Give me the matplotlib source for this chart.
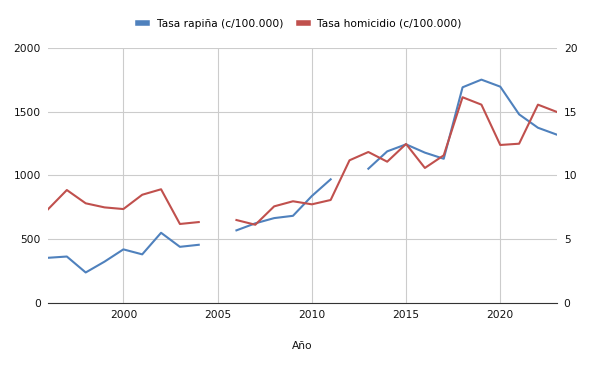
import numpy as np
import matplotlib
matplotlib.use("Agg")
import matplotlib.pyplot as plt

years = np.arange(1996, 2024)

# tasa de rapiña (c/100.000), NaN = sin dato
rapina = [355, 365, 240, 325, 421, 382, 551, 441, 457, np.nan,
          570, 625, 666, 684, 839, 970, np.nan, 1053, 1189, 1244,
          1179, 1131, 1691, 1751, 1696, 1479, 1374, 1320]

# tasa de homicidio (c/100.000)
homicidio = [7.35, 8.86, 7.82, 7.5, 7.37, 8.49, 8.92, 6.2, 6.35, np.nan,
             6.51, 6.14, 7.58, 7.98, 7.74, 8.08, 11.19, 11.84, 11.08, 12.47,
             10.59, 11.58, 16.13, 15.55, 12.39, 12.49, 15.55, 14.98]

blue = "#4f81bd"
red = "#c0504d"

plt.rcParams['font.family'] = ['DejaVu Sans']
fs = 7.7

fig = plt.figure(figsize=(6, 3.71), dpi=100)
ax = fig.add_axes([0.08, 0.183, 0.848, 0.688])
ax2 = ax.twinx()

l1, = ax.plot(years, rapina, color=blue, lw=1.5, label="Tasa rapiña (c/100.000)")
l2, = ax2.plot(years, homicidio, color=red, lw=1.5, label="Tasa homicidio (c/100.000)")

ax.set_xlim(1996, 2023)
ax.set_ylim(0, 2000)
ax2.set_ylim(0, 20)
ax.set_xticks([2000, 2005, 2010, 2015, 2020])
ax.set_yticks([0, 500, 1000, 1500, 2000])
ax2.set_yticks([0, 5, 10, 15, 20])

ax.grid(True, color="#cccccc", lw=0.8)
ax.set_axisbelow(True)
for a in (ax, ax2):
    for s in ("top", "left", "right"):
        a.spines[s].set_visible(False)
    a.spines["bottom"].set_color("#333333")
    a.tick_params(length=0, labelsize=fs, colors="#111111")
ax2.spines["bottom"].set_visible(False)
ax.tick_params(axis="x", pad=5)
ax.tick_params(axis="y", pad=5)
ax2.tick_params(axis="y", pad=5)

ax.set_xlabel("Año", fontsize=fs, labelpad=15, color="#111111")

fig.legend(handles=[l1, l2], loc="upper center", bbox_to_anchor=(0.5, 0.975),
           ncol=2, frameon=False, fontsize=fs, handlelength=0.8,
           columnspacing=1.5, handletextpad=0.9)
for h in fig.legends[0].get_lines():
    h.set_linewidth(4)

fig.savefig("out.png", dpi=100)
